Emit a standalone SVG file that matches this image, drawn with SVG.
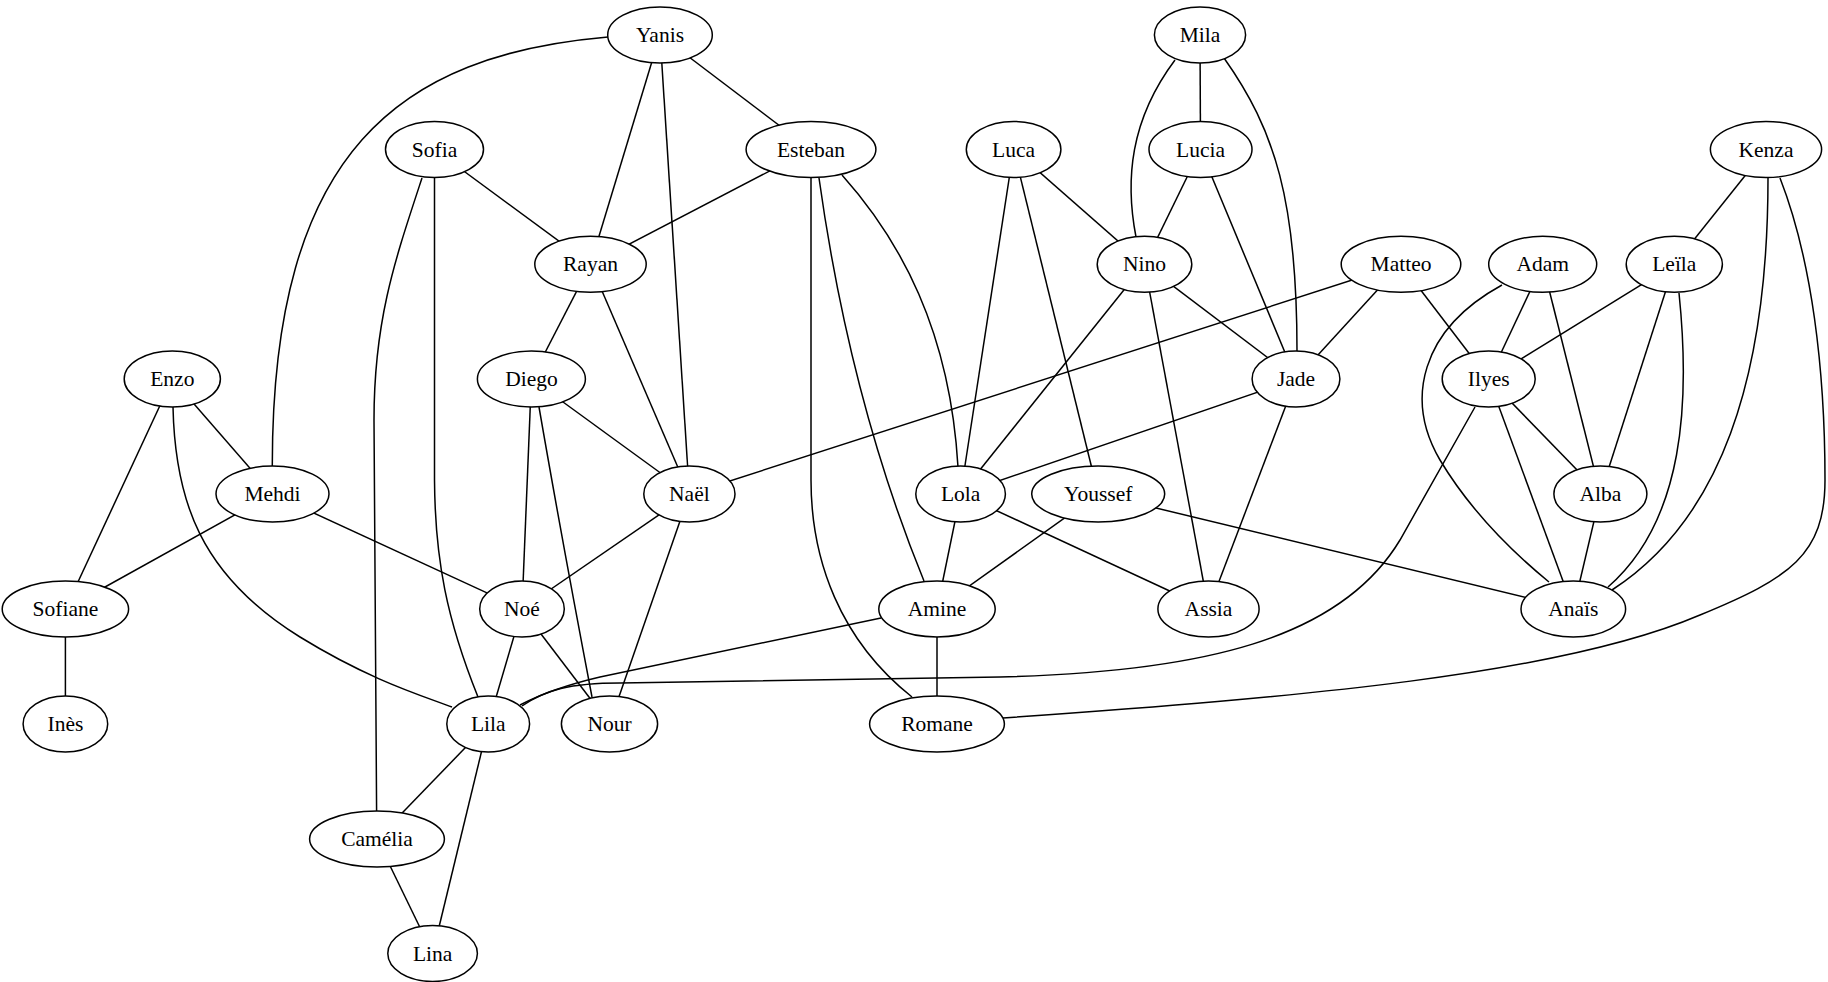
<svg xmlns="http://www.w3.org/2000/svg" width="1828" height="982" viewBox="0 0 1828 982">
<style>
.e{fill:none;stroke:#000;stroke-width:1.5}
.n ellipse{fill:#fff;stroke:#000;stroke-width:1.5}
.n text{font-family:"Liberation Serif","Times New Roman",serif;font-size:21.5px;text-anchor:middle;fill:#000}
</style>
<rect width="1828" height="982" fill="#fff"/>
<g id="edges">
<path class="e" d="M608,37 C400,55 272,150 272.3,466"/>
<line class="e" x1="660" y1="35" x2="590.5" y2="264.3"/>
<line class="e" x1="660" y1="35" x2="689.4" y2="494"/>
<line class="e" x1="660" y1="35" x2="811" y2="149.5"/>
<line class="e" x1="434.5" y1="149.5" x2="590.5" y2="264.3"/>
<path class="e" d="M422,178 C395,260 374,320 374,420 L376.6,811"/>
<path class="e" d="M434.5,178 L434.5,480 C435,560 447,620 478,697"/>
<line class="e" x1="811" y1="149.5" x2="590.5" y2="264.3"/>
<path class="e" d="M811,177 L811,480 C811,560 840,640 912,697"/>
<path class="e" d="M819,178 Q850,400 924,581"/>
<path class="e" d="M842,175 C900,240 950,330 958,467"/>
<line class="e" x1="590.5" y1="264.3" x2="531.4" y2="379"/>
<line class="e" x1="590.5" y1="264.3" x2="689.4" y2="494"/>
<line class="e" x1="531.4" y1="379" x2="689.4" y2="494"/>
<line class="e" x1="531.4" y1="379" x2="522" y2="609"/>
<path class="e" d="M539,407 Q562,540 592,697"/>
<line class="e" x1="172.3" y1="379" x2="272.5" y2="494"/>
<line class="e" x1="172.3" y1="379" x2="65.4" y2="609"/>
<path class="e" d="M173,407 C175,500 200,575 300,637 C370,680 420,695 452,707"/>
<line class="e" x1="272.5" y1="494" x2="65.4" y2="609"/>
<line class="e" x1="272.5" y1="494" x2="522" y2="609"/>
<line class="e" x1="689.4" y1="494" x2="522" y2="609"/>
<line class="e" x1="689.4" y1="494" x2="609.5" y2="724"/>
<line class="e" x1="689.4" y1="494" x2="1401" y2="264.3"/>
<line class="e" x1="65.4" y1="609" x2="65.4" y2="724"/>
<line class="e" x1="522" y1="609" x2="488.2" y2="724"/>
<line class="e" x1="522" y1="609" x2="609.5" y2="724"/>
<line class="e" x1="488.2" y1="724" x2="377" y2="839"/>
<line class="e" x1="488.2" y1="724" x2="432.6" y2="953.5"/>
<line class="e" x1="377" y1="839" x2="432.6" y2="953.5"/>
<path class="e" d="M520,705 C545,692 570,684 600,677 L881,618"/>
<path class="e" d="M522,706 C545,690 570,683 620,683 L1000,677 C1200,672 1340,640 1400,540 L1475,407"/>
<line class="e" x1="1013.6" y1="149.5" x2="960.6" y2="494"/>
<line class="e" x1="1013.6" y1="149.5" x2="1098.2" y2="494"/>
<line class="e" x1="1013.6" y1="149.5" x2="1144.5" y2="264.3"/>
<line class="e" x1="1200" y1="35" x2="1200.5" y2="149.5"/>
<path class="e" d="M1175,60 C1130,120 1125,180 1136,237"/>
<path class="e" d="M1224,58 C1275,130 1297,200 1297,351"/>
<line class="e" x1="1200.5" y1="149.5" x2="1144.5" y2="264.3"/>
<line class="e" x1="1200.5" y1="149.5" x2="1296" y2="379"/>
<line class="e" x1="1144.5" y1="264.3" x2="1296" y2="379"/>
<line class="e" x1="1144.5" y1="264.3" x2="960.6" y2="494"/>
<line class="e" x1="1144.5" y1="264.3" x2="1208.5" y2="609"/>
<line class="e" x1="1401" y1="264.3" x2="1296" y2="379"/>
<line class="e" x1="1401" y1="264.3" x2="1488.7" y2="379"/>
<line class="e" x1="1296" y1="379" x2="960.6" y2="494"/>
<line class="e" x1="1296" y1="379" x2="1208.5" y2="609"/>
<line class="e" x1="960.6" y1="494" x2="937" y2="609"/>
<line class="e" x1="960.6" y1="494" x2="1208.5" y2="609"/>
<line class="e" x1="1098.2" y1="494" x2="937" y2="609"/>
<line class="e" x1="1098.2" y1="494" x2="1573.3" y2="609"/>
<line class="e" x1="937" y1="609" x2="937" y2="724"/>
<path class="e" d="M1003,718 C1300,697 1560,675 1700,615 C1790,578 1825,555 1825,480 C1825,370 1812,260 1780,178"/>
<line class="e" x1="1766" y1="149.5" x2="1674.3" y2="264.3"/>
<path class="e" d="M1768,178 C1768,380 1720,520 1612,590"/>
<line class="e" x1="1542.7" y1="264.3" x2="1488.7" y2="379"/>
<line class="e" x1="1542.7" y1="264.3" x2="1600.4" y2="494"/>
<path class="e" d="M1502,285 C1420,330 1405,400 1440,460 C1470,510 1510,550 1549,582"/>
<line class="e" x1="1674.3" y1="264.3" x2="1488.7" y2="379"/>
<line class="e" x1="1674.3" y1="264.3" x2="1600.4" y2="494"/>
<path class="e" d="M1679,293 C1690,400 1685,520 1608,587"/>
<line class="e" x1="1488.7" y1="379" x2="1600.4" y2="494"/>
<line class="e" x1="1488.7" y1="379" x2="1573.3" y2="609"/>
<line class="e" x1="1600.4" y1="494" x2="1573.3" y2="609"/>
</g>
<g id="node-Yanis" class="n"><ellipse cx="660" cy="35" rx="52.3" ry="28"/><text x="660" y="42">Yanis</text></g>
<g id="node-Sofia" class="n"><ellipse cx="434.5" cy="149.5" rx="49" ry="28"/><text x="434.5" y="156.5">Sofia</text></g>
<g id="node-Esteban" class="n"><ellipse cx="811" cy="149.5" rx="64.9" ry="28"/><text x="811" y="156.5">Esteban</text></g>
<g id="node-Luca" class="n"><ellipse cx="1013.6" cy="149.5" rx="47.3" ry="28"/><text x="1013.6" y="156.5">Luca</text></g>
<g id="node-Mila" class="n"><ellipse cx="1200" cy="35" rx="45.6" ry="28"/><text x="1200" y="42">Mila</text></g>
<g id="node-Lucia" class="n"><ellipse cx="1200.5" cy="149.5" rx="51.5" ry="28"/><text x="1200.5" y="156.5">Lucia</text></g>
<g id="node-Kenza" class="n"><ellipse cx="1766" cy="149.5" rx="55.6" ry="28"/><text x="1766" y="156.5">Kenza</text></g>
<g id="node-Rayan" class="n"><ellipse cx="590.5" cy="264.3" rx="55.7" ry="28"/><text x="590.5" y="271.3">Rayan</text></g>
<g id="node-Nino" class="n"><ellipse cx="1144.5" cy="264.3" rx="47.3" ry="28"/><text x="1144.5" y="271.3">Nino</text></g>
<g id="node-Matteo" class="n"><ellipse cx="1401" cy="264.3" rx="59.8" ry="28"/><text x="1401" y="271.3">Matteo</text></g>
<g id="node-Adam" class="n"><ellipse cx="1542.7" cy="264.3" rx="54" ry="28"/><text x="1542.7" y="271.3">Adam</text></g>
<g id="node-Leila" class="n"><ellipse cx="1674.3" cy="264.3" rx="48.1" ry="28"/><text x="1674.3" y="271.3">Leïla</text></g>
<g id="node-Enzo" class="n"><ellipse cx="172.3" cy="379" rx="48.1" ry="28"/><text x="172.3" y="386">Enzo</text></g>
<g id="node-Diego" class="n"><ellipse cx="531.4" cy="379" rx="54" ry="28"/><text x="531.4" y="386">Diego</text></g>
<g id="node-Jade" class="n"><ellipse cx="1296" cy="379" rx="43.9" ry="28"/><text x="1296" y="386">Jade</text></g>
<g id="node-Ilyes" class="n"><ellipse cx="1488.7" cy="379" rx="46.5" ry="28"/><text x="1488.7" y="386">Ilyes</text></g>
<g id="node-Mehdi" class="n"><ellipse cx="272.5" cy="494" rx="56.5" ry="28"/><text x="272.5" y="501">Mehdi</text></g>
<g id="node-Nael" class="n"><ellipse cx="689.4" cy="494" rx="45.6" ry="28"/><text x="689.4" y="501">Naël</text></g>
<g id="node-Lola" class="n"><ellipse cx="960.6" cy="494" rx="44.8" ry="28"/><text x="960.6" y="501">Lola</text></g>
<g id="node-Youssef" class="n"><ellipse cx="1098.2" cy="494" rx="66.5" ry="28"/><text x="1098.2" y="501">Youssef</text></g>
<g id="node-Alba" class="n"><ellipse cx="1600.4" cy="494" rx="46.5" ry="28"/><text x="1600.4" y="501">Alba</text></g>
<g id="node-Sofiane" class="n"><ellipse cx="65.4" cy="609" rx="63.2" ry="28"/><text x="65.4" y="616">Sofiane</text></g>
<g id="node-Noe" class="n"><ellipse cx="522" cy="609" rx="42.3" ry="28"/><text x="522" y="616">Noé</text></g>
<g id="node-Amine" class="n"><ellipse cx="937" cy="609" rx="58.2" ry="28"/><text x="937" y="616">Amine</text></g>
<g id="node-Assia" class="n"><ellipse cx="1208.5" cy="609" rx="50.6" ry="28"/><text x="1208.5" y="616">Assia</text></g>
<g id="node-Anais" class="n"><ellipse cx="1573.3" cy="609" rx="52.3" ry="28"/><text x="1573.3" y="616">Anaïs</text></g>
<g id="node-Ines" class="n"><ellipse cx="65.4" cy="724" rx="42.3" ry="28"/><text x="65.4" y="731">Inès</text></g>
<g id="node-Lila" class="n"><ellipse cx="488.2" cy="724" rx="41.4" ry="28"/><text x="488.2" y="731">Lila</text></g>
<g id="node-Nour" class="n"><ellipse cx="609.5" cy="724" rx="48.1" ry="28"/><text x="609.5" y="731">Nour</text></g>
<g id="node-Romane" class="n"><ellipse cx="937" cy="724" rx="67.4" ry="28"/><text x="937" y="731">Romane</text></g>
<g id="node-Camelia" class="n"><ellipse cx="377" cy="839" rx="67.4" ry="28"/><text x="377" y="846">Camélia</text></g>
<g id="node-Lina" class="n"><ellipse cx="432.6" cy="953.5" rx="44.8" ry="28"/><text x="432.6" y="960.5">Lina</text></g>
</svg>
